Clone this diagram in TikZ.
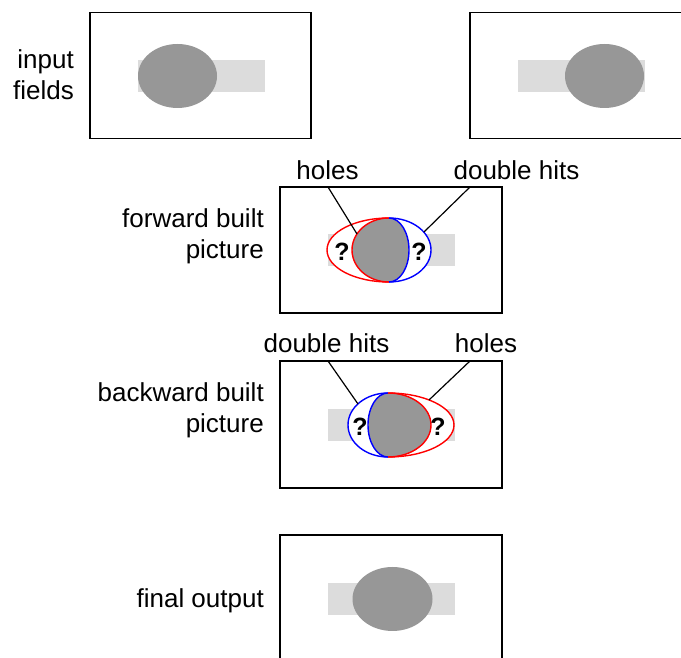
\documentclass[tikz,border=0pt]{standalone}
\usepackage{fontspec}
\setmainfont{Liberation Sans}
\definecolor{barfill}{RGB}{220,220,220}
\definecolor{blobfill}{RGB}{151,151,151}
\begin{document}
\begin{tikzpicture}[x=1pt,y=1pt,
  frame/.style={draw=black, line width=1.5pt},
  bar/.style={fill=barfill},
  blob/.style={fill=blobfill},
  redline/.style={draw=red, line width=1.4pt},
  blueline/.style={draw=blue, line width=1.4pt},
  leader/.style={draw=black, line width=1.2pt},
  lbl/.style={font=\fontsize{26}{31}\selectfont, inner sep=0pt, align=right},
  tag/.style={font=\fontsize{26}{31}\selectfont, inner sep=0pt},
  qmark/.style={font=\fontsize{25}{30}\selectfont\bfseries, inner sep=0pt}]
\useasboundingbox (0,0) rectangle (681,658);
\clip (0,0) rectangle (681,658);

% input fields
\fill[bar] (138,566) rectangle (265,598);
\fill[blob] (177.5,582) ellipse [x radius=39.5, y radius=32];
\draw[frame] (90,519.5) rectangle (311,645.5);
\fill[bar] (518,566) rectangle (645,598);
\fill[blob] (604.5,582) ellipse [x radius=39.5, y radius=32];
\draw[frame] (470,519.5) rectangle (691,645.5);
\node[lbl, anchor=east] (inlbl) at (74,583.6) {input\\fields};

% forward built picture
\draw[frame] (280,345) rectangle (502,471);
\fill[bar] (328,392) rectangle (455,424);
\fill[white] (389,440) arc[start angle=90, end angle=270, x radius=62, y radius=32]
  arc[start angle=-90, end angle=90, x radius=42, y radius=32] -- cycle;
\fill[blob] (389,440) arc[start angle=90, end angle=270, x radius=37, y radius=32]
  arc[start angle=-90, end angle=90, x radius=20, y radius=32] -- cycle;
\draw[redline] (389,440) arc[start angle=90, end angle=270, x radius=62, y radius=32];
\draw[redline] (389,440) arc[start angle=90, end angle=270, x radius=37, y radius=32];
\draw[blueline] (389,376) arc[start angle=-90, end angle=90, x radius=42, y radius=32];
\draw[blueline] (389,376) arc[start angle=-90, end angle=90, x radius=20, y radius=32];
\node[qmark] (fq1) at (342,406) {?};
\node[qmark] (fq2) at (419,406) {?};
\node[lbl, anchor=east] (fwdlbl) at (264,422) {forward built\\picture};
\node[tag, anchor=base] (fholes) at (327.5,478) {holes};
\node[tag, anchor=base] (fdouble) at (516.5,478) {double hits};
\coordinate (fh1) at (328,471);
\coordinate (fh2) at (357,424);
\coordinate (fd1) at (470,471);
\coordinate (fd2) at (424,426);
\draw[leader] (fh1) -- (fh2);
\draw[leader] (fd1) -- (fd2);

% backward built picture
\draw[frame] (280,170) rectangle (502,297);
\fill[bar] (328,217) rectangle (455,249);
\fill[white] (388,265) arc[start angle=90, end angle=270, x radius=40, y radius=32]
  arc[start angle=-90, end angle=90, x radius=66, y radius=32] -- cycle;
\fill[blob] (388,265) arc[start angle=90, end angle=270, x radius=20, y radius=32]
  arc[start angle=-90, end angle=90, x radius=43, y radius=32] -- cycle;
\draw[blueline] (388,265) arc[start angle=90, end angle=270, x radius=40, y radius=32];
\draw[blueline] (388,265) arc[start angle=90, end angle=270, x radius=20, y radius=32];
\draw[redline] (388,201) arc[start angle=-90, end angle=90, x radius=66, y radius=32];
\draw[redline] (388,201) arc[start angle=-90, end angle=90, x radius=43, y radius=32];
\node[qmark] (bq1) at (360,231) {?};
\node[qmark] (bq2) at (438,231) {?};
\node[lbl, anchor=east] (bwdlbl) at (264,247.3) {backward built\\picture};
\node[tag, anchor=base] (bdouble) at (326.5,305) {double hits};
\node[tag, anchor=base] (bholes) at (486,305) {holes};
\coordinate (bd1) at (328,297);
\coordinate (bd2) at (358,254);
\coordinate (bh1) at (470,297);
\coordinate (bh2) at (429,258);
\draw[leader] (bd1) -- (bd2);
\draw[leader] (bh1) -- (bh2);

% final output
\fill[bar] (328,43) rectangle (455,75);
\fill[blob] (392.5,59) ellipse [x radius=40, y radius=32];
\draw[frame] (280,-3) rectangle (502,123);
\node[tag, anchor=base east] (finlbl) at (264,50.3) {final output};
\end{tikzpicture}
\end{document}
